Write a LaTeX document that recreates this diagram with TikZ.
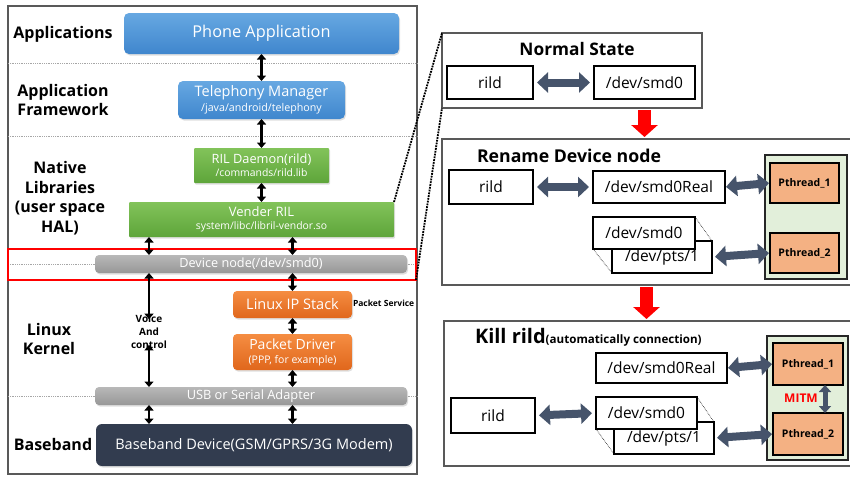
\documentclass[tikz,border=0pt]{standalone}
\usepackage{fontspec}
\setmainfont{Open Sans}
\usetikzlibrary{arrows.meta,shadows,calc}
\definecolor{blueT}{HTML}{67A8E2}
\definecolor{blueB}{HTML}{3F86CD}
\definecolor{greenT}{HTML}{82C35A}
\definecolor{greenB}{HTML}{5EA53A}
\definecolor{grayT}{HTML}{B8B8B8}
\definecolor{grayB}{HTML}{979797}
\definecolor{orangeT}{HTML}{F58D42}
\definecolor{orangeB}{HTML}{E0671C}
\definecolor{navy}{HTML}{323C4F}
\definecolor{slate}{HTML}{46546B}
\definecolor{pth}{HTML}{F4B183}
\definecolor{cont}{HTML}{E2EFDA}
\definecolor{frame}{HTML}{595959}
\newcommand\fsz[2]{\fontsize{#1}{#2}\selectfont}
\begin{document}
\begin{tikzpicture}[x=1pt,y=-1pt,
  every node/.style={inner sep=0pt, outer sep=0pt, align=center},
  sz/.style 2 args={minimum width=#1pt, minimum height=#2pt},
  shad/.style={drop shadow={opacity=0.25, shadow xshift=1pt, shadow yshift=-1.5pt}},
  bluebox/.style={rounded corners=5pt, top color=blueT, bottom color=blueB, text=white, shad},
  greenbox/.style={rounded corners=1pt, top color=greenT, bottom color=greenB, text=white, shad},
  graybox/.style={rounded corners=4pt, top color=grayT, bottom color=grayB, text=white, shad},
  orangebox/.style={rounded corners=4pt, top color=orangeT, bottom color=orangeB, text=white, shad},
  navybox/.style={rounded corners=6pt, fill=navy, text=white, shad},
  layer/.style={font=\bfseries\fsz{16}{19.5}},
  sep/.style={draw=gray!70, densely dotted, line width=0.8pt},
  vbi/.style={line width=2.2pt, {Triangle[length=5.5pt,width=9pt]}-{Triangle[length=5.5pt,width=9pt]}},
  wbox/.style={draw=black, line width=1.8pt, fill=white, font=\fsz{15.5}{18}},
  panel/.style={draw=frame, line width=1.2pt},
  fat/.style={draw=slate, line width=8pt, {Triangle[length=11pt,width=20pt]}-{Triangle[length=11pt,width=20pt]}, shorten <=4pt, shorten >=4pt},
  fatsmall/.style={draw=slate, line width=5pt, {Triangle[length=7pt,width=12pt]}-{Triangle[length=7pt,width=12pt]}},
  redarrow/.style={draw=red, line width=13pt, -{Triangle[length=12pt,width=26pt]}, shorten <=2pt, shorten >=2pt},
  contbox/.style={draw=black!85, line width=1.8pt, fill=cont},
  pbox/.style={draw=black, line width=2.2pt, fill=pth, font=\bfseries\fsz{10.5}{12}},
  ptdot/.style={draw=black, densely dotted, line width=0.6pt}
]
\useasboundingbox (0,0) rectangle (850,477);

% ---------- left panel ----------
\node[panel, sz={409}{468}] (leftframe) at (212.5,240) {};
\draw[sep] (leftframe.west |- 0,63) -- (leftframe.east |- 0,63);
\draw[sep] (leftframe.west |- 0,136) -- (leftframe.east |- 0,136);
\draw[sep] (leftframe.west |- 0,264) -- (leftframe.east |- 0,264);
\draw[sep] (leftframe.west |- 0,396) -- (leftframe.east |- 0,396);

\node[layer] (lapp) at (63,34) {Applications};
\node[layer] (lfw) at (63,100) {Application\\Framework};
\node[layer] (lnat) at (60,198) {Native\\Libraries\\(user space\\HAL)};
\node[layer] (lkern) at (49,339) {Linux\\Kernel};
\node[layer] (lbb) at (53,444) {Baseband};

\node[bluebox, sz={275}{41}, font=\fsz{16.3}{18}] (phone) at (261.5,33.5) {Phone Application};
\node[bluebox, sz={167}{38}, font=\fsz{14.5}{16}] (tel) at (261.5,100) {Telephony Manager\\[-1.5pt]{\fsz{10.7}{12}/java/android/telephony}};
\node[greenbox, sz={135}{35}, font=\fsz{12.8}{14}] (rild) at (261.5,165.5) {RIL Daemon(rild)\\[-1pt]{\fsz{10.4}{11}/commands/rild.lib}};
\node[greenbox, sz={265}{35}, font=\fsz{13}{14}] (vender) at (261.5,219.5) {Vender RIL\\[-1pt]{\fsz{10.4}{11}system/libc/libril-vendor.so}};
\node[graybox, sz={312}{18}, font=\fsz{12.7}{13}] (dev) at (251,264) {Device node(/dev/smd0)};
\node[orangebox, sz={119}{27}, font=\fsz{14.5}{16}] (ip) at (292.5,304.5) {Linux IP Stack};
\node[orangebox, sz={119}{36}, font=\fsz{14}{16}] (pkt) at (292.5,352) {Packet Driver\\[-2pt]{\fsz{10.5}{12}(PPP, for example)}};
\node[graybox, sz={312}{18}, font=\fsz{12.8}{14}] (usb) at (251,396) {USB or Serial Adapter};
\node[navybox, sz={316}{42}, font=\fsz{14.5}{16}] (bb) at (254,445) {Baseband Device(GSM/GPRS/3G Modem)};

\node[font=\bfseries\fsz{8.5}{10}, anchor=west] (psvc) at (353,303) {Packet Service};
\node[font=\bfseries\fsz{10}{13}] (vc) at (149,332) {Voice\\And\\control};

\node[draw=red, line width=1.8pt, sz={408}{31}] (redbox) at (212,264.5) {};

\coordinate (colA) at (149,0);
\coordinate (colB) at (292.5,0);

\draw[vbi] (phone.south) -- (tel.north);
\draw[vbi] (tel.south) -- (rild.north);
\draw[vbi] (rild.south) -- (vender.north);
\draw[vbi] (vender.south -| colA) -- (dev.north -| colA);
\draw[vbi] (vender.south -| colB) -- (dev.north -| colB);
\draw[vbi] (dev.south -| colA) -- ([yshift=-4pt]vc.north);
\draw[vbi] ([yshift=4pt]vc.south) -- (usb.north -| colA);
\draw[vbi] (dev.south -| colB) -- (ip.north);
\draw[vbi] (ip.south) -- (pkt.north);
\draw[vbi] (pkt.south) -- (usb.north -| colB);
\draw[vbi] (usb.south -| colA) -- (bb.north -| colA);
\draw[vbi] (usb.south -| colB) -- (bb.north -| colB);

% ---------- Normal State ----------
\node[panel, sz={260}{75}] (ns) at (572,70.5) {};
\node[font=\bfseries\fsz{17.3}{20}] (nst) at (577,49) {Normal State};
\node[wbox, sz={86}{33}] (nsr) at (490,82.5) {rild};
\node[wbox, sz={101}{33}] (nsd) at (644.5,82.5) {/dev/smd0};
\draw[fat] (nsr.east) -- (nsd.west);

% connectors from left panel
\draw[densely dotted, line width=1.8pt] (vender.north east) -- (ns.north west);
\draw[densely dotted, line width=1.8pt] (redbox.south east) -- (ns.south west);

% ---------- Rename Device node ----------
\node[panel, sz={410}{146}] (rn) at (647,212) {};
\node[font=\bfseries\fsz{17.7}{20}, anchor=west] (rnt) at (477,156) {Rename Device node};
\draw[redarrow] (ns.south -| nsd) -- (rn.north -| nsd);
\node[wbox, sz={84}{34}] (rnr) at (491,187) {rild};
\node[wbox, sz={132}{32}] (rnreal) at (659,187) {/dev/smd0Real};
\node[contbox, sz={82}{124}] (rng) at (806,217) {};
\node[pbox, sz={69}{40}] (rnp1) at (804.5,183) {Pthread\_1};
\node[pbox, sz={69}{40}] (rnp2) at (804.5,253) {Pthread\_2};
\node[wbox, sz={100}{32}] (rnpts) at (662,257) {/dev/pts/1};
\node[wbox, sz={102}{32}] (rnsmd) at (644,233) {/dev/smd0};
\draw[ptdot] (rnsmd.north east) -- (rnpts.north east);
\draw[ptdot] (rnsmd.south west) -- (rnpts.south west);
\draw[fat] (rnr.east) -- (rnreal.west);
\draw[fat, shorten <=1pt, shorten >=1pt] (rnreal.east) -- (rnp1.west);
\draw[fat, shorten <=3pt, shorten >=1pt] (rnpts.east) -- (rnp2.west);

% ---------- Kill rild ----------
\node[panel, sz={408}{145}] (kr) at (648,393.5) {};
\node[anchor=west] (krt) at (475,337) {\bfseries\fsz{20}{22}Kill rild{\fsz{11.6}{13}(automatically connection)}};
\node[wbox, sz={131}{30}] (krreal) at (661.5,368) {/dev/smd0Real};
\node[contbox, sz={81}{124}] (krg) at (807.5,398) {};
\node[pbox, sz={70}{42}] (krp1) at (808,364) {Pthread\_1};
\node[pbox, sz={70}{42}] (krp2) at (808,434) {Pthread\_2};
\node[font=\bfseries\fsz{12}{13}, text=red] (mitm) at (801,398) {MITM};
\coordinate (mx) at (825,0);
\draw[fatsmall] (krp1.south -| mx) -- (krp2.north -| mx);
\node[wbox, sz={84}{35}] (krr) at (493,415.5) {rild};
\node[wbox, sz={100}{32}] (krpts) at (664,438) {/dev/pts/1};
\node[wbox, sz={101}{32}] (krsmd) at (646.5,413) {/dev/smd0};
\draw[ptdot] (krsmd.north east) -- (krpts.north east);
\draw[ptdot] (krsmd.south west) -- (krpts.south west);
\draw[redarrow] (rn.south -| krsmd) -- (kr.north -| krsmd);
\draw[fat] (krr.east) -- (krsmd.west);
\draw[fat, shorten <=1pt, shorten >=1pt] (krreal.east) -- (krp1.west);
\draw[fat, shorten <=3pt, shorten >=1pt] (krpts.east) -- (krp2.west);
\end{tikzpicture}
\end{document}
